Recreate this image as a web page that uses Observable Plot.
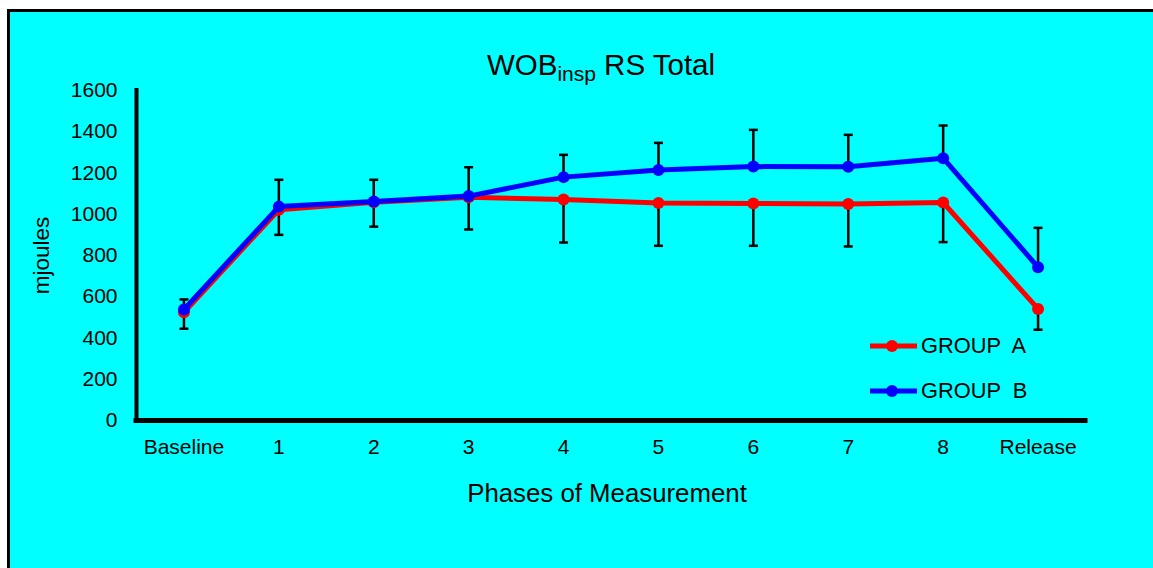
<!DOCTYPE html>
<html>
<head>
<meta charset="utf-8">
<script src="https://cdn.jsdelivr.net/npm/d3@7"></script>
<script src="https://cdn.jsdelivr.net/npm/@observablehq/plot@0.6"></script>
<style>
  html, body { margin: 0; padding: 0; background: #ffffff; overflow: hidden; width: 1153px; height: 568px; }
  body { position: relative; font-family: Arial, "Liberation Sans", sans-serif; color: #000; }
  #frame { position: absolute; left: 7px; top: 9px; width: 1300px; height: 700px; box-sizing: border-box;
           background: #00FFFF; border: 3px solid #000; }
  #title { position: absolute; left: 0; top: 51px; width: 1202px; text-align: center; font-size: 29.5px; line-height: 28px; white-space: pre; }
  #title .sub { font-size: 21px; position: relative; top: 6px; line-height: 0; }
  #chart { position: absolute; left: 0; top: 80px; }
  .leg { position: absolute; display: flex; align-items: center; height: 21px; }
  .leg span { font-size: 21.8px; line-height: 21px; white-space: pre; margin-left: 1px; }
</style>
</head>
<body>
<div id="frame"></div>
<div id="title">WOB<span class="sub">insp</span> RS Total</div>
<div id="chart"></div>
<div id="legend"></div>
<script>
// ---- data ----
const categories = ["Baseline", "1", "2", "3", "4", "5", "6", "7", "8", "Release"];
const groupA = [525, 1022, 1058, 1082, 1071, 1055, 1052, 1050, 1057, 541];
const groupAErrDown = [80, 122, 118, 156, 208, 208, 205, 206, 192, 101];
const groupB = [538, 1037, 1062, 1088, 1180, 1215, 1231, 1230, 1272, 743];
const groupBErrUp = [49, 130, 105, 140, 108, 131, 178, 155, 158, 191];
const yTicks = [0, 200, 400, 600, 800, 1000, 1200, 1400, 1600];
const seriesNames = ["GROUP  A", "GROUP  B"];
const seriesColors = ["#FF0000", "#0000FF"];
const yLabel = "mjoules";
const xLabel = "Phases of Measurement";

// ---- tables built from the arrays ----
const rows = [];
const errRows = [];
categories.forEach((c, i) => {
  rows.push({i, cat: c, value: groupA[i], group: seriesNames[0]});
  errRows.push({i, value: groupA[i], end: groupA[i] - groupAErrDown[i]});
});
categories.forEach((c, i) => {
  rows.push({i, cat: c, value: groupB[i], group: seriesNames[1]});
  errRows.push({i, value: groupB[i], end: groupB[i] + groupBErrUp[i]});
});

const capSymbol = {
  draw(context, size) {
    const w = Math.sqrt(size / Math.PI);
    context.moveTo(-w, 0);
    context.lineTo(w, 0);
  }
};

const plot = Plot.plot({
  width: 1153,
  height: 440,
  marginTop: 10,
  marginBottom: 100,
  marginLeft: 136,
  marginRight: 68,
  style: {background: "transparent", fontFamily: "Arial, 'Liberation Sans', sans-serif", fontSize: "21px", color: "#000", overflow: "visible"},
  x: {type: "linear", domain: [-0.5, categories.length - 0.5], ticks: d3.range(categories.length),
      tickFormat: i => categories[i], tickSize: 0, tickPadding: 18.5, label: null},
  y: {domain: [0, 1600], ticks: yTicks, tickFormat: d3.format("d"), tickSize: 0, tickPadding: 19, label: null},
  color: {domain: seriesNames, range: seriesColors},
  marks: [
    Plot.ruleX(errRows, {x: "i", y1: "value", y2: "end", stroke: "#000", strokeWidth: 2.5}),
    Plot.dot(errRows, {x: "i", y: "end", symbol: capSymbol, r: 4.5, stroke: "#000", strokeWidth: 2.5, fill: "none"}),
    Plot.ruleX([-0.5], {y1: 0, y2: 1600, stroke: "#000", strokeWidth: 4, strokeLinecap: "square"}),
    Plot.ruleY([0], {x1: -0.5, x2: categories.length - 0.5, stroke: "#000", strokeWidth: 5, strokeLinecap: "square"}),
    Plot.line(rows.filter(d => d.group === seriesNames[0]), {x: "i", y: "value", stroke: "group", strokeWidth: 5}),
    Plot.dot(rows.filter(d => d.group === seriesNames[0]), {x: "i", y: "value", fill: "group", r: 6}),
    Plot.line(rows.filter(d => d.group === seriesNames[1]), {x: "i", y: "value", stroke: "group", strokeWidth: 5}),
    Plot.dot(rows.filter(d => d.group === seriesNames[1]), {x: "i", y: "value", fill: "group", r: 6}),
    Plot.text([yLabel], {text: d => d, frameAnchor: "left", dx: -95, rotate: -90, fontSize: 22.5, textAnchor: "middle", lineAnchor: "middle", fill: "#000"}),
    Plot.text([xLabel], {text: d => d, frameAnchor: "bottom", dy: 73, dx: -4, fontSize: 25.8, textAnchor: "middle", lineAnchor: "middle", fill: "#000"})
  ]
});
document.getElementById("chart").appendChild(plot);

// ---- legend (HTML, drawn inside the chart area) ----
const legend = document.getElementById("legend");
const legTops = [335, 380];
seriesNames.forEach((name, k) => {
  const row = document.createElement("div");
  row.className = "leg";
  row.style.left = "868px";
  row.style.top = legTops[k] + "px";
  row.innerHTML = `<svg width="52" height="21"><line x1="2" x2="49" y1="11" y2="11" stroke="${seriesColors[k]}" stroke-width="5"/><circle cx="24" cy="11" r="6" fill="${seriesColors[k]}"/></svg><span>${name}</span>`;
  legend.appendChild(row);
});
</script>
</body>
</html>
